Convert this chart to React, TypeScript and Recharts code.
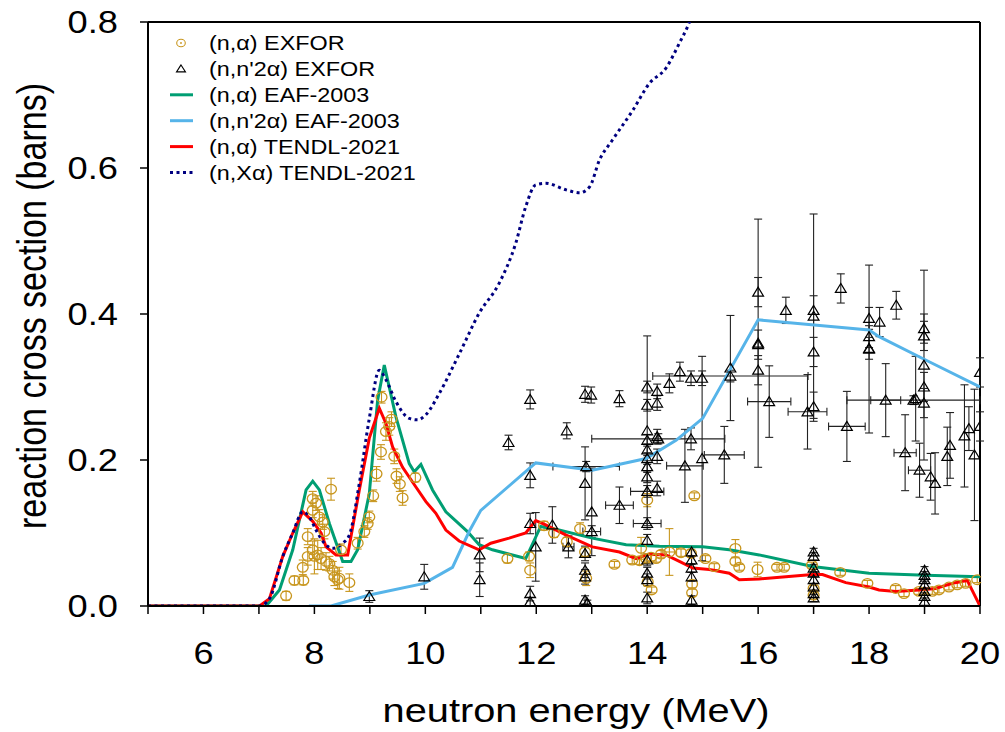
import React from "react";
import {
  ComposedChart,
  Line,
  Scatter,
  ErrorBar,
  XAxis,
  YAxis,
  ReferenceLine,
} from "recharts";

// [energy MeV, cross section b, dxs, dE]
const nAlphaExfor: number[][] = [
  [7.49, 0.014, 0.006, 0], [7.64, 0.035, 0.006, 0], [7.8, 0.035, 0.006, 0], [7.79, 0.053, 0.01, 0],
  [7.88, 0.095, 0.011, 0], [7.88, 0.068, 0.012, 0], [7.97, 0.147, 0.01, 0], [7.97, 0.131, 0.01, 0],
  [8.03, 0.141, 0.01, 0], [8.09, 0.122, 0.01, 0], [8.15, 0.115, 0.01, 0], [8.18, 0.102, 0.01, 0],
  [8.3, 0.16, 0.015, 0], [7.97, 0.077, 0.012, 0], [8.0, 0.068, 0.024, 0], [8.06, 0.07, 0.02, 0],
  [8.12, 0.065, 0.015, 0], [8.21, 0.061, 0.012, 0], [8.27, 0.058, 0.01, 0], [8.33, 0.049, 0.012, 0],
  [8.36, 0.04, 0.012, 0], [8.42, 0.036, 0.012, 0], [8.45, 0.038, 0.015, 0], [8.63, 0.032, 0.012, 0],
  [8.48, 0.077, 0.008, 0], [8.78, 0.086, 0.008, 0], [8.9, 0.102, 0.008, 0], [8.96, 0.113, 0.008, 0],
  [8.99, 0.122, 0.008, 0], [9.06, 0.151, 0.008, 0], [9.12, 0.181, 0.01, 0], [9.2, 0.211, 0.01, 0],
  [9.21, 0.286, 0.008, 0], [9.29, 0.239, 0.012, 0], [9.35, 0.246, 0.012, 0], [9.39, 0.256, 0.01, 0],
  [9.44, 0.205, 0.01, 0], [9.48, 0.178, 0.01, 0], [9.54, 0.167, 0.01, 0], [9.59, 0.148, 0.01, 0],
  [9.82, 0.176, 0.006, 0],
  [11.48, 0.065, 0.006, 0], [11.87, 0.068, 0.006, 0], [11.89, 0.049, 0.01, 0], [12.14, 0.11, 0.006, 0],
  [12.32, 0.1, 0.006, 0], [12.55, 0.088, 0.006, 0], [12.79, 0.106, 0.008, 0], [12.88, 0.074, 0.006, 0],
  [12.9, 0.038, 0.01, 0], [13.41, 0.057, 0.004, 0], [13.73, 0.063, 0.005, 0], [13.86, 0.062, 0.005, 0],
  [13.98, 0.065, 0.006, 0], [14.07, 0.067, 0.005, 0], [14.16, 0.065, 0.005, 0], [14.25, 0.071, 0.005, 0],
  [13.89, 0.079, 0.015, 0], [14.0, 0.145, 0.009, 0], [14.01, 0.033, 0.006, 0], [14.08, 0.022, 0.004, 0],
  [14.4, 0.074, 0.032, 0.13], [14.61, 0.073, 0.005, 0], [14.79, 0.072, 0.005, 0], [14.81, 0.018, 0.005, 0],
  [14.81, 0.03, 0.005, 0], [14.85, 0.151, 0.004, 0], [15.05, 0.065, 0.004, 0], [15.21, 0.054, 0.004, 0],
  [15.59, 0.079, 0.012, 0], [15.59, 0.061, 0.005, 0], [15.66, 0.053, 0.004, 0], [15.99, 0.05, 0.01, 0],
  [16.34, 0.053, 0.004, 0], [16.47, 0.053, 0.004, 0], [16.97, 0.056, 0.004, 0], [17.0, 0.015, 0.004, 0],
  [17.0, 0.024, 0.004, 0], [17.48, 0.046, 0.004, 0], [17.97, 0.031, 0.004, 0], [18.48, 0.024, 0.004, 0],
  [18.63, 0.017, 0.004, 0], [18.9, 0.02, 0.004, 0], [19.14, 0.02, 0.004, 0], [19.26, 0.022, 0.004, 0],
  [19.44, 0.026, 0.004, 0], [19.59, 0.029, 0.004, 0], [19.74, 0.031, 0.004, 0], [19.95, 0.036, 0.004, 0],
];

const nN2AlphaExfor: number[][] = [
  [8.99, 0.013, 0.008, 0], [9.98, 0.04, 0.017, 0], [10.98, 0.07, 0.023, 0], [10.98, 0.036, 0.023, 0],
  [11.5, 0.224, 0.01, 0], [11.89, 0.283, 0.013, 0], [11.89, 0.179, 0.017, 0], [11.89, 0.113, 0.014, 0],
  [11.99, 0.081, 0.047, 0], [11.89, 0.017, 0.01, 0], [11.89, 0.006, 0.006, 0], [12.29, 0.111, 0.025, 0],
  [12.55, 0.24, 0.011, 0], [12.58, 0.081, 0.015, 0.1], [12.88, 0.29, 0.011, 0], [12.99, 0.289, 0.011, 0],
  [12.9, 0.191, 0.007, 0.6], [12.88, 0.168, 0.05, 0], [13.0, 0.129, 0.06, 0], [13.0, 0.102, 0.008, 0.16],
  [12.88, 0.072, 0.01, 0], [12.88, 0.049, 0.01, 0], [12.88, 0.04, 0.01, 0], [12.88, 0.008, 0.006, 0],
  [12.92, 0.004, 0.004, 0], [13.5, 0.284, 0.011, 0], [13.5, 0.138, 0.025, 0.25], [14.2, 0.229, 0.007, 1.2],
  [14.0, 0.3, 0.008, 0], [14.0, 0.275, 0.008, 0], [14.0, 0.227, 0.008, 0], [14.0, 0.214, 0.008, 0],
  [14.0, 0.202, 0.008, 0], [14.0, 0.191, 0.008, 0], [14.0, 0.177, 0.008, 0], [14.0, 0.157, 0.008, 0.3],
  [14.0, 0.113, 0.008, 0.25], [14.0, 0.09, 0.008, 0], [14.0, 0.063, 0.008, 0], [14.0, 0.045, 0.008, 0],
  [14.0, 0.036, 0.008, 0], [14.0, 0.011, 0.008, 0], [14.0, 0.24, 0.13, 0],
  [14.18, 0.294, 0.01, 0], [14.18, 0.278, 0.01, 0], [14.18, 0.232, 0.01, 0], [14.18, 0.205, 0.01, 0],
  [14.18, 0.161, 0.01, 0], [14.4, 0.305, 0.013, 0], [14.59, 0.321, 0.013, 0], [14.79, 0.312, 0.01, 0],
  [14.99, 0.312, 0.01, 0], [14.99, 0.202, 0.14, 0], [14.68, 0.192, 0.05, 0.33], [14.79, 0.229, 0.015, 0],
  [15.39, 0.207, 0.039, 0.36], [14.8, 0.074, 0.006, 0], [14.8, 0.063, 0.006, 0], [14.8, 0.052, 0.006, 0],
  [14.8, 0.04, 0.006, 0], [14.8, 0.008, 0.006, 0], [15.5, 0.326, 0.072, 0], [15.5, 0.315, 0.008, 1.4],
  [16.0, 0.43, 0.02, 0], [16.0, 0.358, 0.02, 0], [16.0, 0.323, 0.02, 0], [16.0, 0.36, 0.17, 0],
  [16.5, 0.405, 0.018, 0], [16.2, 0.28, 0.049, 0.39], [16.89, 0.266, 0.051, 0.35],
  [17.0, 0.405, 0.02, 0], [17.0, 0.397, 0.14, 0], [17.0, 0.348, 0.02, 0], [17.0, 0.273, 0.02, 0],
  [17.49, 0.435, 0.02, 0], [17.6, 0.246, 0.048, 0.33],
  [18.0, 0.394, 0.015, 0], [18.0, 0.369, 0.015, 0], [18.0, 0.353, 0.015, 0], [18.0, 0.352, 0.115, 0],
  [18.19, 0.389, 0.02, 0], [18.3, 0.282, 0.05, 0.27], [18.8, 0.282, 0.006, 1.2], [18.49, 0.412, 0.019, 0],
  [18.99, 0.38, 0.02, 0], [18.99, 0.37, 0.02, 0], [18.99, 0.3, 0.02, 0], [18.99, 0.278, 0.02, 0],
  [18.99, 0.33, 0.13, 0], [18.84, 0.284, 0.058, 0], [18.65, 0.21, 0.052, 0.2], [18.91, 0.186, 0.037, 0.2],
  [19.11, 0.177, 0.032, 0], [19.19, 0.168, 0.042, 0], [19.41, 0.205, 0.04, 0], [19.46, 0.22, 0.045, 0],
  [19.72, 0.233, 0.07, 0], [19.8, 0.243, 0.03, 0], [19.9, 0.207, 0.09, 0], [20.0, 0.246, 0.02, 0],
  [20.0, 0.32, 0.02, 0],
  [17.0, 0.074, 0.005, 0], [17.0, 0.068, 0.005, 0], [17.0, 0.052, 0.005, 0], [17.0, 0.045, 0.005, 0],
  [17.0, 0.036, 0.005, 0], [17.0, 0.026, 0.005, 0], [17.0, 0.017, 0.005, 0], [17.0, 0.011, 0.005, 0],
  [19.0, 0.049, 0.005, 0], [19.0, 0.042, 0.005, 0], [19.0, 0.036, 0.005, 0], [19.0, 0.029, 0.005, 0],
  [19.0, 0.02, 0.005, 0], [19.0, 0.013, 0.005, 0], [19.0, 0.006, 0.005, 0],
];

const nAlphaEaf: number[][] = [
  [5, 0], [7.13, 0], [7.37, 0.022], [7.61, 0.077], [7.85, 0.159], [7.97, 0.171], [8.09, 0.159],
  [8.27, 0.113], [8.51, 0.061], [8.66, 0.061], [8.78, 0.077], [8.99, 0.154], [9.14, 0.282], [9.26, 0.33],
  [9.47, 0.259], [9.71, 0.195], [9.8, 0.184], [9.92, 0.194], [10.13, 0.159], [10.37, 0.129], [10.76, 0.102],
  [10.97, 0.084], [11.21, 0.077], [11.81, 0.065], [12.08, 0.109], [12.41, 0.104], [13.01, 0.093],
  [13.62, 0.084], [14.22, 0.082], [15.0, 0.081], [15.48, 0.077], [16.02, 0.07], [16.98, 0.054],
  [18.0, 0.045], [19.02, 0.042], [20, 0.04],
];

const nN2AlphaEaf: number[][] = [
  [7.9, 0], [8.3, 0], [8.99, 0.015], [9.98, 0.031], [10.49, 0.053], [10.79, 0.102], [11.0, 0.131],
  [11.99, 0.196], [13.01, 0.186], [13.98, 0.202], [14.52, 0.227], [15.0, 0.257], [16.0, 0.392],
  [18.0, 0.378], [18.18, 0.369], [19.02, 0.337], [20, 0.3],
];

const nAlphaTendl: number[][] = [
  [5, 0], [7.01, 0], [7.19, 0.01], [7.43, 0.068], [7.61, 0.1], [7.79, 0.129], [7.97, 0.116], [8.12, 0.1],
  [8.21, 0.081], [8.39, 0.07], [8.6, 0.07], [8.81, 0.159], [8.99, 0.23], [9.17, 0.271], [9.29, 0.25],
  [9.41, 0.218], [9.59, 0.19], [9.83, 0.163], [10.01, 0.143], [10.19, 0.127], [10.37, 0.104], [10.61, 0.089],
  [10.97, 0.077], [11.18, 0.086], [11.51, 0.093], [11.81, 0.1], [11.99, 0.117], [12.17, 0.111],
  [12.54, 0.097], [13.01, 0.081], [13.5, 0.074], [13.8, 0.065], [14.04, 0.071], [14.34, 0.07],
  [14.58, 0.061], [14.82, 0.052], [15.12, 0.05], [15.48, 0.045], [15.66, 0.036], [16.02, 0.037],
  [16.5, 0.04], [16.98, 0.043], [17.16, 0.043], [17.58, 0.032], [18.0, 0.026], [18.18, 0.022],
  [18.48, 0.02], [18.9, 0.022], [19.2, 0.024], [19.5, 0.031], [19.77, 0.035], [20, 0],
];

const nXAlphaTendl: number[][] = [
  [5, 0], [7.01, 0], [7.19, 0.01], [7.43, 0.068], [7.61, 0.1], [7.79, 0.129], [7.91, 0.122], [8.03, 0.104],
  [8.18, 0.086], [8.33, 0.079], [8.51, 0.086], [8.63, 0.097], [8.81, 0.168], [8.99, 0.257], [9.17, 0.323],
  [9.29, 0.31], [9.47, 0.28], [9.71, 0.257], [9.86, 0.255], [10.01, 0.262], [10.25, 0.291], [10.61, 0.345],
  [10.97, 0.401], [11.33, 0.442], [11.63, 0.497], [11.81, 0.547], [11.99, 0.577], [12.17, 0.579],
  [12.54, 0.57], [12.78, 0.566], [12.96, 0.574], [13.14, 0.611], [13.37, 0.638], [13.74, 0.679],
  [14.04, 0.716], [14.34, 0.737], [14.58, 0.771], [14.74, 0.796], [14.9, 0.83],
];

const xTicks = [5, 6, 7, 8, 9, 10, 11, 12, 13, 14, 15, 16, 17, 18, 19, 20];
const yTicks = [0, 0.2, 0.4, 0.6, 0.8];

const GOLD = "#c8961e";
const FONT = "'Liberation Sans', Arial, Helvetica, sans-serif";
const SX = 1.17; // the original is stretched horizontally

const toPts = (rows: number[][]) => rows.map((r) => ({ x: r[0], y: r[1], ey: r[2], ex: r[3] }));
const toLine = (rows: number[][]) => rows.map((r) => ({ x: r[0], y: r[1] }));

const CircleMark = (p: any) => (
  <ellipse cx={p.cx} cy={p.cy} rx={5.4} ry={4.8} fill="none" stroke={GOLD} strokeWidth={1.3} />
);

const TriMark = (p: any) => (
  <polygon
    points={`${p.cx},${p.cy - 5} ${p.cx - 5.4},${p.cy + 4} ${p.cx + 5.4},${p.cy + 4}`}
    fill="none"
    stroke="#000"
    strokeWidth={1.2}
  />
);

const XTick = (p: any) => {
  const v = p.payload.value;
  if (v % 2 !== 0) return <g />;
  return (
    <text
      transform={`translate(${p.x},${p.y}) scale(${SX},1)`}
      textAnchor="middle"
      dy="0.71em"
      fontSize={31}
      fontFamily={FONT}
      fill="#000"
    >
      {v}
    </text>
  );
};

const YTick = (p: any) => (
  <text
    transform={`translate(${p.x},${p.y}) scale(${SX},1)`}
    textAnchor="end"
    dy="0.36em"
    fontSize={31}
    fontFamily={FONT}
    fill="#000"
  >
    {Number(p.payload.value).toFixed(1)}
  </text>
);

const legendRows = [
  { label: "(n,α) EXFOR", kind: "circle" },
  { label: "(n,n'2α) EXFOR", kind: "tri" },
  { label: "(n,α) EAF-2003", kind: "line", color: "#009e73" },
  { label: "(n,n'2α) EAF-2003", kind: "line", color: "#56b4e9" },
  { label: "(n,α) TENDL-2021", kind: "line", color: "#ff0000" },
  { label: "(n,Xα) TENDL-2021", kind: "dot", color: "#000080" },
];

export default function App() {
  return (
    <div style={{ position: "absolute", left: 0, top: 0, width: 1005, height: 732, background: "#fff" }}>
      <ComposedChart width={1005} height={732} margin={{ top: 22, right: 25, left: 0, bottom: 0 }}>
        <XAxis
          type="number"
          dataKey="x"
          domain={[5, 20]}
          ticks={xTicks}
          allowDataOverflow
          height={126}
          tickSize={8}
          tickMargin={28}
          tick={<XTick />}
          axisLine={{ stroke: "#000", strokeWidth: 2 }}
          tickLine={{ stroke: "#000", strokeWidth: 1.5 }}
        />
        <YAxis
          type="number"
          dataKey="y"
          domain={[0, 0.8]}
          ticks={yTicks}
          allowDataOverflow
          width={148}
          tickSize={8}
          tickMargin={22}
          tick={<YTick />}
          axisLine={{ stroke: "#000", strokeWidth: 2 }}
          tickLine={{ stroke: "#000", strokeWidth: 1.5 }}
        />
        <ReferenceLine y={0.8} stroke="#000" strokeWidth={2} />
        <ReferenceLine x={20} stroke="#000" strokeWidth={2} />

        <Scatter data={toPts(nAlphaExfor)} shape={<CircleMark />} isAnimationActive={false}>
          <ErrorBar dataKey="ey" direction="y" width={4} stroke={GOLD} strokeWidth={1.1} isAnimationActive={false} />
          <ErrorBar dataKey="ex" direction="x" width={4} stroke={GOLD} strokeWidth={1.1} isAnimationActive={false} />
        </Scatter>
        <Scatter data={toPts(nN2AlphaExfor)} shape={<TriMark />} isAnimationActive={false}>
          <ErrorBar dataKey="ey" direction="y" width={4} stroke="#222" strokeWidth={1.1} isAnimationActive={false} />
          <ErrorBar dataKey="ex" direction="x" width={4} stroke="#222" strokeWidth={1.1} isAnimationActive={false} />
        </Scatter>

        <Line data={toLine(nAlphaEaf)} dataKey="y" type="linear" stroke="#009e73" strokeWidth={3} dot={false} isAnimationActive={false} />
        <Line data={toLine(nN2AlphaEaf)} dataKey="y" type="linear" stroke="#56b4e9" strokeWidth={3} dot={false} isAnimationActive={false} />
        <Line data={toLine(nAlphaTendl)} dataKey="y" type="linear" stroke="#ff0000" strokeWidth={3} dot={false} isAnimationActive={false} />
        <Line data={toLine(nXAlphaTendl)} dataKey="y" type="monotone" stroke="#000080" strokeWidth={3} strokeDasharray="3 3.5" dot={false} isAnimationActive={false} />
      </ComposedChart>

      <svg width={1005} height={732} style={{ position: "absolute", left: 0, top: 0, pointerEvents: "none" }}>
        <text
          transform={`translate(576,722) scale(${SX},1)`}
          textAnchor="middle"
          fontSize={34}
          fontFamily={FONT}
          fill="#000"
        >
          neutron energy (MeV)
        </text>
        <text
          transform={`translate(46,306) scale(${SX},1) rotate(-90)`}
          textAnchor="middle"
          fontSize={34}
          fontFamily={FONT}
          fill="#000"
        >
          reaction cross section (barns)
        </text>
        {legendRows.map((r, i) => {
          const y = 43 + i * 25.9;
          return (
            <g key={r.label}>
              {r.kind === "circle" && (
                <g>
                  <ellipse cx={181} cy={y} rx={4.3} ry={3.8} fill="none" stroke={GOLD} strokeWidth={1.1} />
                  <circle cx={181} cy={y} r={0.9} fill={GOLD} />
                </g>
              )}
              {r.kind === "tri" && (
                <polygon
                  points={`181,${y - 4} 176.5,${y + 3} 185.5,${y + 3}`}
                  fill="none"
                  stroke="#000"
                  strokeWidth={1.1}
                />
              )}
              {r.kind === "line" && <line x1={170} x2={193} y1={y} y2={y} stroke={r.color} strokeWidth={3} />}
              {r.kind === "dot" && (
                <line x1={170} x2={193} y1={y} y2={y} stroke={r.color} strokeWidth={3} strokeDasharray="3 3.5" />
              )}
              <text
                transform={`translate(209,${y}) scale(${SX},1)`}
                dy="0.36em"
                fontSize={20}
                fontFamily={FONT}
                fill="#000"
              >
                {r.label}
              </text>
            </g>
          );
        })}
      </svg>
    </div>
  );
}
